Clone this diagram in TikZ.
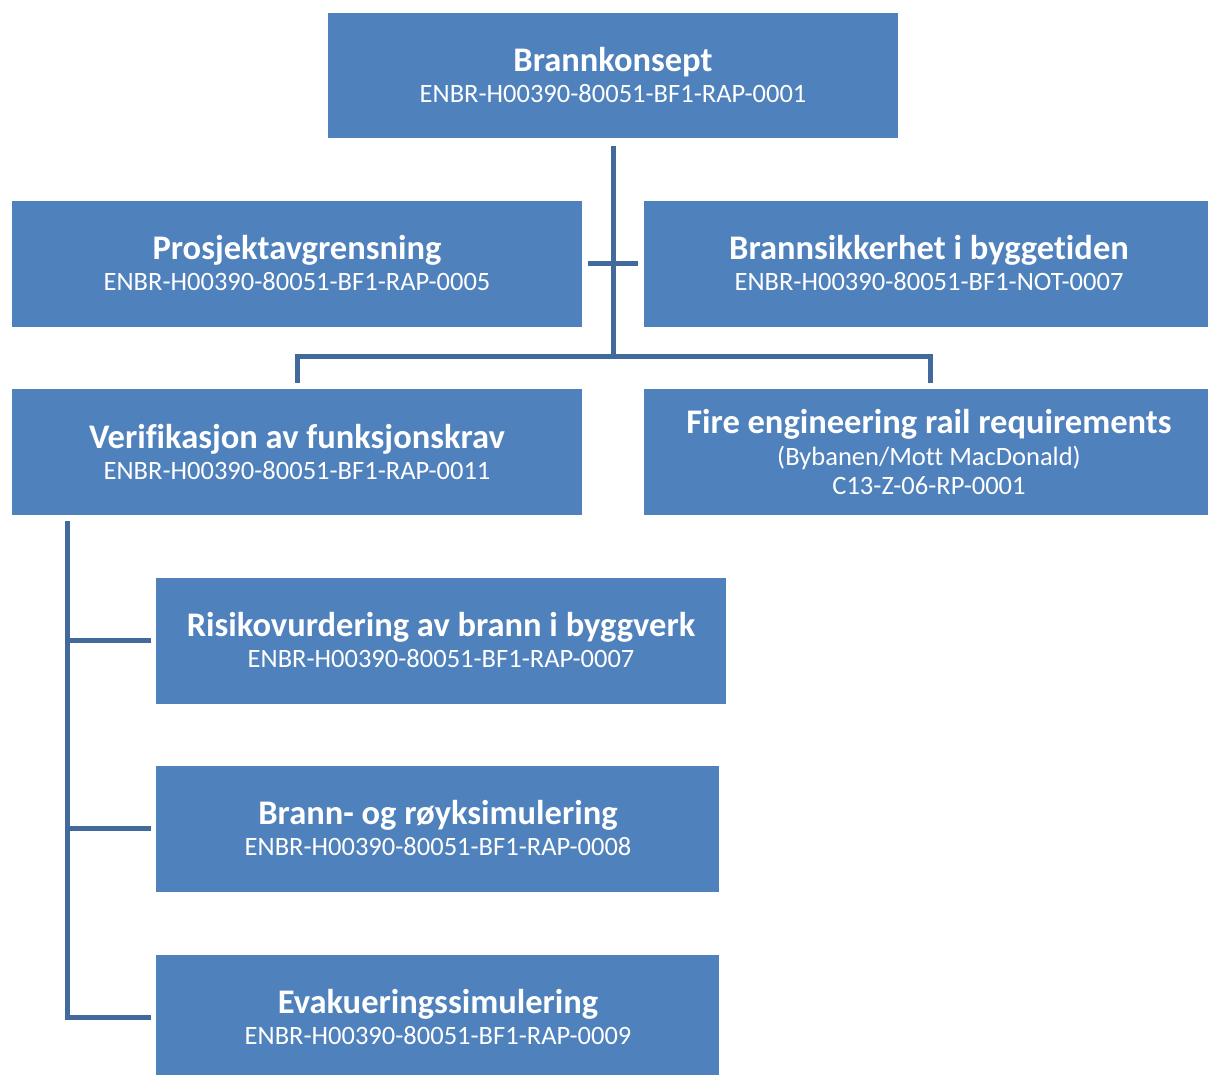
\documentclass[tikz,border=0pt]{standalone}
\usepackage{fontspec}
\setmainfont{Carlito}[Ligatures=NoCommon]
\definecolor{boxblue}{HTML}{4F81BD}
\definecolor{lineblue}{HTML}{41699B}
\begin{document}
\begin{tikzpicture}[x=1pt,y=-1pt,
  box/.style={fill=boxblue,draw=none},
  ttl/.style={text=white,font=\fontsize{34.5}{38}\selectfont\bfseries,inner sep=0pt,anchor=base},
  sub/.style={text=white,font=\fontsize{26.5}{30}\selectfont,inner sep=0pt,anchor=base},
  conn/.style={draw=lineblue,line width=5pt}]
\useasboundingbox (0,0) rectangle (1208,1075);
% boxes
\path[box] (328,13) rectangle (898,138);
\path[box] (12,201) rectangle (582,327);
\path[box] (644,201) rectangle (1208,327);
\path[box] (12,389) rectangle (582,515);
\path[box] (644,389) rectangle (1208,515);
\path[box] (156,578) rectangle (726,704);
\path[box] (156,766) rectangle (719,892);
\path[box] (156,955) rectangle (719,1075);
% texts
\node[ttl] (t1) at (613,72) {Brannkonsept};
\node[sub] (s1) at (613,103) {ENBR-H00390-80051-BF1-RAP-0001};
\node[ttl] (t2) at (297,260) {Prosjektavgrensning};
\node[sub] (s2) at (297,291) {ENBR-H00390-80051-BF1-RAP-0005};
\node[ttl] (t3) at (929,260) {Brannsikkerhet i byggetiden};
\node[sub] (s3) at (929,291) {ENBR-H00390-80051-BF1-NOT-0007};
\node[ttl] (t4) at (297,448) {Verifikasjon av funksjonskrav};
\node[sub] (s4) at (297,479) {ENBR-H00390-80051-BF1-RAP-0011};
\node[ttl] (t5) at (929,433) {Fire engineering rail requirements};
\node[sub] (s5a) at (929,465) {(Bybanen/Mott MacDonald)};
\node[sub] (s5b) at (929,494) {C13-Z-06-RP-0001};
\node[ttl] (t6) at (441,636) {Risikovurdering av brann i byggverk};
\node[sub] (s6) at (441,667) {ENBR-H00390-80051-BF1-RAP-0007};
\node[ttl] (t7) at (438,824) {Brann- og røyksimulering};
\node[sub] (s7) at (438,855) {ENBR-H00390-80051-BF1-RAP-0008};
\node[ttl] (t8) at (438,1013) {Evakueringssimulering};
\node[sub] (s8) at (438,1044) {ENBR-H00390-80051-BF1-RAP-0009};
% connectors
\coordinate (a1) at (613,146);
\coordinate (a2) at (613,357);
\coordinate (h1) at (588,264);
\coordinate (h2) at (638,264);
\coordinate (l1) at (297,383);
\coordinate (r1) at (930,383);
\coordinate (v1) at (67,521);
\coordinate (v2) at (67,1019.5);
\coordinate (c1) at (151,640);
\coordinate (c2) at (151,828);
\coordinate (c3) at (151,1017);
\draw[conn] (a1) -- (a2);
\draw[conn] (h1) -- (h2);
\draw[conn] (l1) |- (a2) -| (r1);
\draw[conn] (v1) -- (v2);
\draw[conn] (c1) -- (c1 -| v1);
\draw[conn] (c2) -- (c2 -| v1);
\draw[conn] (c3) -- (c3 -| v1);
\end{tikzpicture}
\end{document}
